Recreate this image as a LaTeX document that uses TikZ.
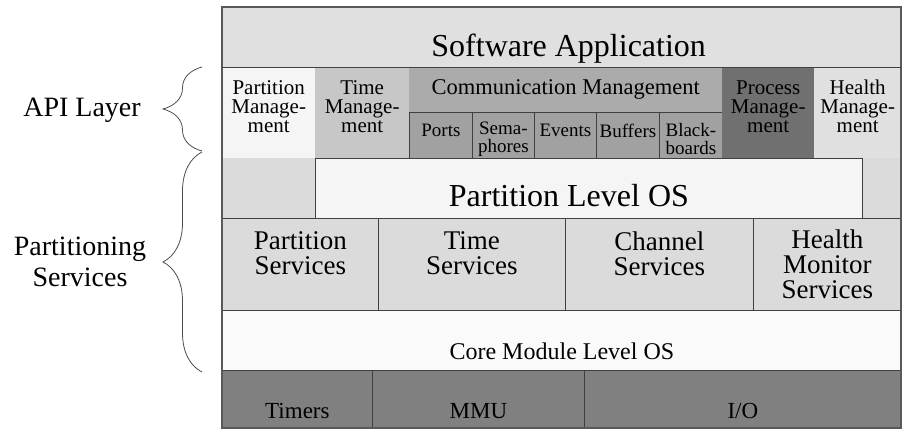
\documentclass[tikz,border=0pt]{standalone}
\usepackage{fontspec}
\setmainfont{Liberation Serif}
\usetikzlibrary{decorations.pathreplacing}
\begin{document}
\begin{tikzpicture}[x=1pt,y=-1pt,
    layer/.style ={anchor=north west, inner sep=0pt, align=center},
    framed/.style ={layer, draw=black!75, line width=0.8pt},
    boxsize/.style 2 args={minimum width=#1pt, minimum height=#2pt},
    apptext/.style ={font=\fontsize{32}{34}\selectfont},
    ostext/.style ={font=\fontsize{32}{34}\selectfont},
    svctext/.style ={font=\fontsize{27}{25}\selectfont},
    apitext/.style ={font=\fontsize{21}{19}\selectfont},
    subtext/.style ={font=\fontsize{19}{17.5}\selectfont},
    coretext/.style ={font=\fontsize{24}{26}\selectfont},
    hwtext/.style ={font=\fontsize{23}{25}\selectfont},
    sidetext/.style ={font=\fontsize{28}{31}\selectfont},
    bracket/.style ={decorate, decoration={brace, amplitude=39pt}, draw=black!70, line width=0.8pt}]
   \useasboundingbox (0,0) rectangle (903,430);

   \node[layer,boxsize={679}{60},fill=black!12,apptext,text height=45pt] (app) at (222,7) {\hspace*{14pt}Software Application};

   \node[layer,boxsize={93}{91},fill=black!4,apitext,text depth=12pt] (pman) at (222,67) {Partition\\Manage-\\ment};
   \node[layer,boxsize={94}{91},fill=black!22,apitext,text depth=12pt] (tman) at (315,67) {Time\\Manage-\\ment};
   \node[layer,boxsize={313}{45},fill=black!33,apitext,font=\fontsize{22.5}{24}\selectfont] (cman) at (409,67) {Communication Management};
   \node[framed,boxsize={63}{46},fill=black!37,subtext,text depth=10pt] (ports) at (409,112) {Ports};
   \node[framed,boxsize={62}{46},fill=black!37,subtext,text height=38pt] (sema) at (472,112) {Sema-\\phores};
   \node[framed,boxsize={62}{46},fill=black!37,subtext,text depth=10pt] (events) at (534,112) {Events};
   \node[framed,boxsize={63}{46},fill=black!37,subtext,text depth=10pt] (buffers) at (596,112) {Buffers};
   \node[framed,boxsize={63}{46},fill=black!37,subtext,text height=38pt] (boards) at (659,112) {Black-\\boards};
   \node[layer,boxsize={92}{91},fill=black!56,apitext,text depth=12pt] (procman) at (722,67) {Process\\Manage-\\ment};
   \node[layer,boxsize={87}{91},fill=black!12,apitext,text depth=12pt] (hman) at (814,67) {Health\\Manage-\\ment};

   \fill[black!14] (222,158) rectangle (901,310);
   \node[framed,boxsize={547}{60},fill=black!4,ostext,text height=36pt] (plos) at (315,158) {Partition Level OS\hspace*{40pt}};

   \node[framed,boxsize={156}{92},fill=black!14,svctext,text depth=22pt] (psvc) at (222,218) {Partition\\Services};
   \node[framed,boxsize={187}{92},fill=black!14,svctext,text depth=22pt] (tsvc) at (378,218) {Time\\Services};
   \node[framed,boxsize={188}{92},fill=black!14,svctext,text depth=22pt] (chsvc) at (565,218) {Channel\\Services};
   \node[framed,boxsize={148}{92},fill=black!14,svctext] (hmsvc) at (753,218) {Health\\Monitor\\Services};

   \node[framed,boxsize={679}{60},fill=black!2,coretext,text height=38pt,text depth=0pt] (core) at (222,310) {Core Module Level OS};

   \node[framed,boxsize={150}{58},fill=black!50,hwtext,text height=38pt,text depth=0pt] (timers) at (222,370) {Timers};
   \node[framed,boxsize={212}{58},fill=black!50,hwtext,text height=38pt,text depth=0pt] (mmu) at (372,370) {MMU};
   \node[framed,boxsize={317}{58},fill=black!50,hwtext,text height=38pt,text depth=0pt] (io) at (584,370) {I/O};

   \draw[black!65,line width=1.5pt] (222,7) rectangle (901,428);
   \draw[black!75,line width=0.8pt] (app.south west) -- (app.south east);

   \coordinate (apitop) at (202,67);
   \coordinate (apibot) at (202,151);
   \coordinate (svctop) at (202,152);
   \coordinate (svcbot) at (202,372);
   \draw[bracket] (apibot) to (apitop);
   \draw[bracket] (svcbot) to (svctop);

   \node[sidetext] (apilayer) at (82,110) {API Layer};
   \node[sidetext,align=center] (partsvc) at (80,262) {Partitioning\\Services};
 \end{tikzpicture}
\end{document}
